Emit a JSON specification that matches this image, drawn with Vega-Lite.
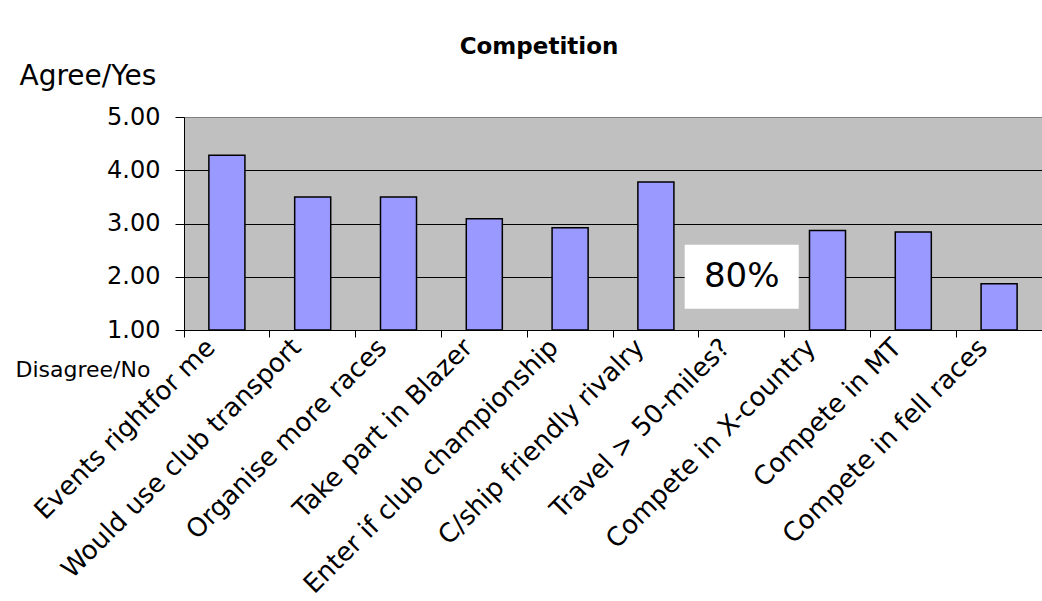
{
  "$schema": "https://vega.github.io/schema/vega-lite/v6.json",
  "width": 858,
  "height": 213,
  "autosize": {"type": "none"},
  "padding": {"left": 184, "top": 117, "right": 0, "bottom": 271},
  "background": "#ffffff",
  "title": {
    "text": "Competition",
    "font": "DejaVu Sans",
    "fontSize": 23,
    "fontWeight": "bold",
    "color": "#000000",
    "anchor": "middle",
    "frame": "group",
    "dx": -74,
    "offset": 3
  },
  "config": {
    "view": {"fill": "#c0c0c0", "stroke": "#808080", "strokeWidth": 1},
    "axis": {"labelFont": "DejaVu Sans", "titleFont": "DejaVu Sans", "labelColor": "#000000", "titleColor": "#000000", "titleFontWeight": "normal"}
  },
  "data": {
    "values": [
      {"q": "Events rightfor me", "score": 4.28, "note": null},
      {"q": "Would use club transport", "score": 3.50, "note": null},
      {"q": "Organise more races", "score": 3.50, "note": null},
      {"q": "Take part in Blazer", "score": 3.09, "note": null},
      {"q": "Enter if club championship", "score": 2.92, "note": null},
      {"q": "C/ship friendly rivalry", "score": 3.78, "note": null},
      {"q": "Travel > 50-miles?", "score": null, "note": "80%"},
      {"q": "Compete in X-country", "score": 2.87, "note": null},
      {"q": "Compete in MT", "score": 2.84, "note": null},
      {"q": "Compete in fell races", "score": 1.87, "note": null}
    ]
  },
  "encoding": {
    "x": {
      "field": "q",
      "type": "nominal",
      "sort": ["Events rightfor me", "Would use club transport", "Organise more races", "Take part in Blazer", "Enter if club championship", "C/ship friendly rivalry", "Travel > 50-miles?", "Compete in X-country", "Compete in MT", "Compete in fell races"],
      "scale": {"paddingInner": 0, "paddingOuter": 0},
      "axis": {
        "title": "Disagree/No",
        "titleAngle": 0,
        "titleAlign": "left",
        "titleBaseline": "alphabetic",
        "titleX": -169,
        "titleY": 46,
        "titleFontSize": 22,
        "bandPosition": 0,
        "labelOffset": -16,
        "labelAngle": -45,
        "labelAlign": "right",
        "labelBaseline": "middle",
        "labelFontSize": 26,
        "labelPadding": 6,
        "labelLimit": 500,
        "labelOverlap": false,
        "tickSize": 7,
        "tickColor": "#000000",
        "domainColor": "#000000",
        "grid": false
      }
    }
  },
  "layer": [
    {
      "mark": {"type": "bar", "fill": "#9999ff", "stroke": "#000000", "strokeWidth": 1.5, "width": {"band": 0.42}},
      "encoding": {
        "y": {
          "field": "score",
          "type": "quantitative",
          "scale": {"domain": [1, 5], "zero": false, "nice": false},
          "axis": {
            "values": [1, 2, 3, 4, 5],
            "format": ".2f",
            "labelFontSize": 24,
            "labelPadding": 15,
            "tickSize": 9,
            "tickColor": "#000000",
            "domainColor": "#000000",
            "grid": true,
            "gridColor": {"condition": {"test": "datum.value === 5", "value": "#808080"}, "value": "#000000"},
            "gridOpacity": 1,
            "title": "Agree/Yes",
            "titleAngle": 0,
            "titleAlign": "left",
            "titleBaseline": "alphabetic",
            "titleX": -165,
            "titleY": -33,
            "titleFontSize": 28
          }
        },
        "y2": {"datum": 1}
      }
    },
    {
      "transform": [{"filter": "datum.note != null"}],
      "mark": {"type": "point", "shape": "M-1,-0.5614L1,-0.5614L1,0.5614L-1,0.5614Z", "size": 12996, "filled": true, "fill": "#ffffff", "opacity": 1, "strokeWidth": 0},
      "encoding": {"y": {"datum": 2}}
    },
    {
      "transform": [{"filter": "datum.note != null"}],
      "mark": {"type": "text", "font": "DejaVu Sans", "fontSize": 34, "color": "#000000", "baseline": "middle", "align": "center"},
      "encoding": {"y": {"datum": 2}, "text": {"field": "note"}}
    }
  ]
}
